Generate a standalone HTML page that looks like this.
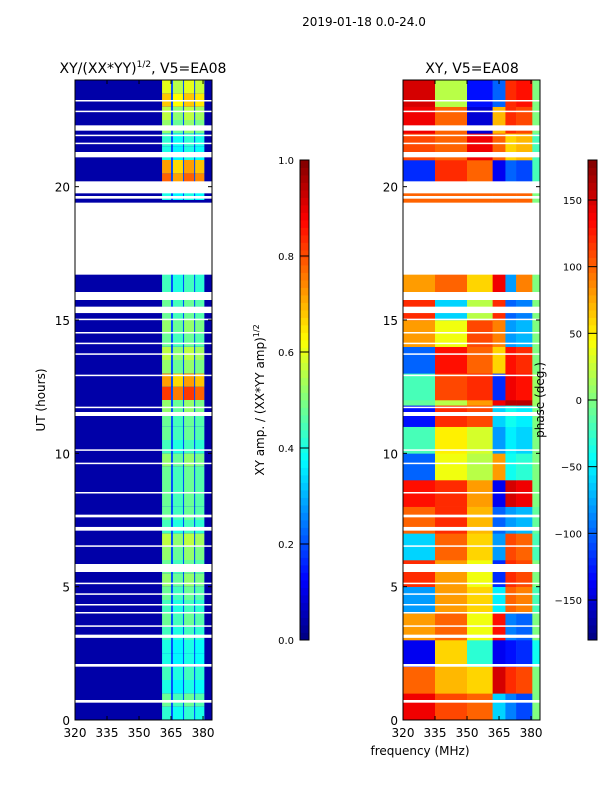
<!DOCTYPE html>
<html><head><meta charset="utf-8"><style>
body{margin:0;background:#fff;font-family:"DejaVu Sans","Liberation Sans",sans-serif;}
svg text{font-family:"DejaVu Sans","Liberation Sans",sans-serif;fill:#000;}
</style></head><body>
<svg id="fig" width="600" height="800" xmlns="http://www.w3.org/2000/svg">
<rect width="600" height="800" fill="#fff"/>
<text x="364" y="26" font-size="12" text-anchor="middle">2019-01-18 0.0-24.0</text>
<text x="143" y="73" font-size="14" text-anchor="middle">XY/(XX*YY)<tspan font-size="9" dy="-6">1/2</tspan><tspan dy="6">, V5=EA08</tspan></text>
<text x="472" y="73" font-size="14" text-anchor="middle">XY, V5=EA08</text>
<g id="ampPanel"></g>
<g id="phasePanel"></g>
<g id="axes"></g>
<text transform="translate(45,400) rotate(-90)" font-size="12" text-anchor="middle">UT (hours)</text>
<text transform="translate(264,400) rotate(-90)" font-size="12" text-anchor="middle">XY amp. / (XX*YY amp)<tspan font-size="8" dy="-5">1/2</tspan></text>
<text transform="translate(544,400) rotate(-90)" font-size="12" text-anchor="middle">phase (deg.)</text>
<text x="420" y="755" font-size="12" text-anchor="middle">frequency (MHz)</text>
</svg>
<script>
// ---- data ----
const ampRowHours = [0,0.5,1,1.5,2,2.5,3,3.5,4,4.5,5,5.5,6,6.5,7,7.5,8,8.5,9,9.5,10,10.5,11,11.5,12,12.5,13,13.5,14,14.5,15,15.5,16,16.5,17,17.5,18,18.5,19,19.5,20,20.5,21,21.5,22,22.5,23,23.5];
const ampBright = [0.42,0.48,0.4,0.44,0.4,0.4,0.44,0.48,0.44,0.48,0.52,0.48,0.52,0.56,0.44,0.48,0.48,0.48,0.48,0.52,0.44,0.48,0.48,0.52,0.82,0.72,0.52,0.56,0.48,0.52,0.48,0.48,0.44,0.44,0,0,0,0,0,0.4,0.78,0.72,0.4,0.42,0.52,0.56,0.68,0.6];
const ampBackground = 0.04;
const subbandStart = [360.8,365.9,371.1,376.3];
const subbandEnd = [365.0,370.6,375.8,380.6];
const subbandGain = [1.0,0.92,1.0,0.95];
const dividerLevel = 0.2;
const phaseColEdges = [320,335,350,362,368,373,380.6,384.2];
const phaseRowHours = [0,1,2,3,4,5,6,7,8,9,10,11,11.8,12,13,14,15,16,19.4,20,21,22,23];
const phaseValues = [
 [140,110,100,-60,-90,-110,0],
 [100,70,60,150,120,110,0],
 [-140,60,-30,-140,-130,-120,-40],
 [80,100,40,130,-90,-100,0],
 [-80,80,60,-50,100,90,-20],
 [120,80,40,-120,120,110,0],
 [-60,100,60,-80,110,100,-20],
 [100,120,70,-100,-80,-70,-10],
 [130,120,80,-140,150,140,0],
 [-100,40,20,80,-40,-30,0],
 [-20,50,30,-80,-50,-60,0],
 [-130,120,110,-60,-40,-50,0],
 [-10,20,80,140,160,160,10],
 [-20,110,120,-120,140,130,10],
 [-100,130,100,60,130,120,0],
 [80,40,110,90,-80,-70,0],
 [120,-60,20,120,-100,-90,0],
 [80,100,60,140,-80,90,0],
 [100,100,100,100,100,100,0],
 [-120,120,100,-140,-100,-110,-20],
 [110,100,140,100,60,70,-20],
 [140,100,-150,70,120,110,0],
 [150,20,-130,-100,120,130,0]
];
const gapStart = [0.65,2.0,3.08,3.5,4.0,4.3,4.7,5.1,5.55,6.5,7.1,7.6,8.5,9.6,10.1,11.4,11.7,12.9,13.7,14.1,14.5,15.0,15.26,15.75,16.7,19.55,19.75,21.1,21.6,21.9,22.1,22.8,23.2];
const gapEnd   = [0.75,2.1,3.2,3.55,4.05,4.35,4.75,5.15,5.85,6.55,7.24,7.7,8.55,9.65,10.15,11.55,11.75,12.95,13.75,14.15,14.55,15.05,15.5,16.05,19.4,19.65,20.2,21.3,21.65,21.95,22.3,22.85,23.25];
const xTicks = [320,335,350,365,380];
const yTicks = [0,5,10,15,20];
const ampTicks = [0.0,0.2,0.4,0.6,0.8,1.0];
const phaseTicks = [-150,-100,-50,0,50,100,150];

// ---- helpers ----
const NS='http://www.w3.org/2000/svg';
function mk(tag,attrs,parent){const e=document.createElementNS(NS,tag);for(const k in attrs)e.setAttribute(k,attrs[k]);parent.appendChild(e);return e;}
function jet(v){v=Math.max(0,Math.min(1,v));
 const r=Math.max(0,Math.min(1,1.5-Math.abs(4*v-3))),g=Math.max(0,Math.min(1,1.5-Math.abs(4*v-2))),b=Math.max(0,Math.min(1,1.5-Math.abs(4*v-1)));
 return 'rgb('+Math.round(r*255)+','+Math.round(g*255)+','+Math.round(b*255)+')';}
const Y0=720,Y1=80,FMIN=320,FMAX=384.2;
function yS(h){return Y0-(h/24)*(Y0-Y1);}
function xS(f,x0){return x0+(f-FMIN)/(FMAX-FMIN)*137;}
const panels=[{x0:75,g:document.getElementById('ampPanel')},{x0:403,g:document.getElementById('phasePanel')}];

// amp heatmap
(function(){const x0=75,g=panels[0].g;
 mk('rect',{x:x0,y:80,width:137,height:640,fill:jet(ampBackground)},g);
 for(let i=0;i<ampRowHours.length;i++){const v=ampBright[i];if(v<=0)continue;
  const h0=ampRowHours[i],h1=h0+0.5;
  const ya=yS(h1),yb=yS(h0);
  const dv=mk('rect',{x:xS(subbandStart[0],x0),y:ya,width:xS(subbandEnd[3],x0)-xS(subbandStart[0],x0),height:yb-ya,fill:jet(dividerLevel)},g);
  
  
  for(let s=0;s<subbandStart.length;s++){
   const r=mk('rect',{x:xS(subbandStart[s],x0),y:ya,width:xS(subbandEnd[s],x0)-xS(subbandStart[s],x0),height:yb-ya,fill:jet(v*subbandGain[s])},g);
   
   
  }}
})();
// phase heatmap
(function(){const x0=403,g=panels[1].g;
 for(let i=0;i<phaseRowHours.length;i++){const h0=phaseRowHours[i],h1=i+1<phaseRowHours.length?phaseRowHours[i+1]:24;
  for(let c=0;c<phaseColEdges.length-1;c++){
   const xa=xS(phaseColEdges[c],x0),xb=xS(phaseColEdges[c+1],x0);
   const r=mk('rect',{x:xa,y:yS(h1),width:xb-xa+0.3,height:yS(h0)-yS(h1)+0.3,fill:jet((phaseValues[i][c]+180)/360)},g);
   
   
  }}
})();
// gaps
for(const p of panels){for(let i=0;i<gapStart.length;i++){
 const r=mk('rect',{x:p.x0,y:yS(gapEnd[i]),width:137,height:Math.max(1.5,yS(gapStart[i])-yS(gapEnd[i])),fill:'#fff'},p.g);
 
 
}}
// axes
const ax=document.getElementById('axes');
for(const p of panels){
 mk('rect',{x:p.x0,y:80,width:137,height:640,fill:'none',stroke:'#000','stroke-width':1},ax);
 for(const t of xTicks){const x=xS(t,p.x0);
  mk('line',{x1:x,x2:x,y1:720,y2:716,stroke:'#000'},ax);mk('line',{x1:x,x2:x,y1:80,y2:84,stroke:'#000'},ax);
  const tx=mk('text',{x:x,y:737,'font-size':12,'text-anchor':'middle'},ax);tx.textContent=t;
  
  }
 for(const t of yTicks){const y=yS(t);
  mk('line',{x1:p.x0,x2:p.x0+4,y1:y,y2:y,stroke:'#000'},ax);mk('line',{x1:p.x0+137,x2:p.x0+133,y1:y,y2:y,stroke:'#000'},ax);
  const tx=mk('text',{x:p.x0-5,y:y+5,'font-size':12,'text-anchor':'end'},ax);tx.textContent=t;
  
  }
}
// colorbars
function colorbar(x,ticks,lo,hi,name){
 const n=64,h=480/n;
 for(let i=0;i<n;i++){mk('rect',{x:x,y:640-(i+1)*h,width:9,height:h+0.4,fill:jet((i+0.5)/n)},ax);}
 const r=mk('rect',{x:x,y:160,width:9,height:480,fill:'none',stroke:'#000'},ax);
 
 
 for(const t of ticks){const y=640-(t-lo)/(hi-lo)*480;
  mk('line',{x1:x,x2:x+9,y1:y,y2:y,stroke:'#000'},ax);
  const tx=mk('text',{x:x-6,y:y+4,'font-size':10,'text-anchor':'end'},ax);
  tx.textContent=(lo===0?t.toFixed(1):(t<0?'\u2212'+(-t):t));
  
  }
}
colorbar(300,ampTicks,0,1,'amp-colorbar');
colorbar(588,phaseTicks,-180,180,'phase-colorbar');
</script>
</body></html>
